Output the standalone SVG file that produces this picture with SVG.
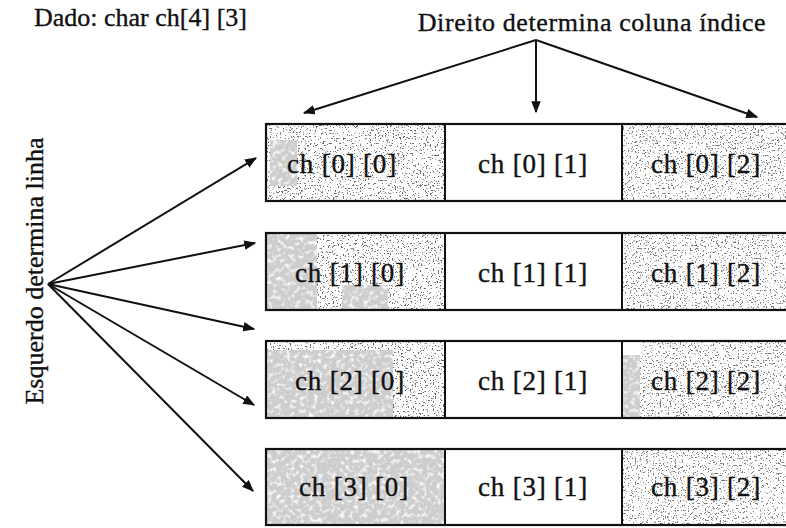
<svg xmlns="http://www.w3.org/2000/svg" width="786" height="528" viewBox="0 0 786 528">
<style>
  .lbl { font-family: "Liberation Serif", "Times New Roman", serif; font-size: 26px; fill: #111; stroke: #111; stroke-width: 0.35; }
  .cell-text { font-family: "Liberation Serif", "Times New Roman", serif; font-size: 27px; fill: #111; stroke: #111; stroke-width: 0.4; text-anchor: middle; letter-spacing: 0.8px; }
  .box { fill: none; stroke: #111; stroke-width: 2.2; }
  .div { stroke: #111; stroke-width: 2; }
  .conn { stroke: #111; stroke-width: 2; fill: none; marker-end: url(#arr); }
  .grey { fill: #cdcdcd; }
  .white { fill: #ffffff; }
</style>
<defs>
  <marker id="arr" viewBox="0 0 10 8" refX="9" refY="4" markerWidth="6" markerHeight="4.8" orient="auto" markerUnits="strokeWidth">
    <path d="M0,0 L10,4 L0,8 Z" fill="#111"/>
  </marker>
  <filter id="speck" x="0" y="0" width="1" height="1">
    <feTurbulence type="fractalNoise" baseFrequency="0.6" numOctaves="3" seed="5"/>
    <feColorMatrix type="matrix" values="0 0 0 0 0.15  0 0 0 0 0.15  0 0 0 0 0.15  -13 0 0 0 5.0"/>
  </filter>
  <filter id="speck2" x="0" y="0" width="1" height="1">
    <feTurbulence type="fractalNoise" baseFrequency="0.6" numOctaves="3" seed="11"/>
    <feColorMatrix type="matrix" values="0 0 0 0 0.2  0 0 0 0 0.2  0 0 0 0 0.2  -12 0 0 0 4.7"/>
  </filter>
  <filter id="mottle" x="0" y="0" width="1" height="1">
    <feTurbulence type="fractalNoise" baseFrequency="0.22" numOctaves="2" seed="2"/>
    <feColorMatrix type="matrix" values="0 0 0 0 1  0 0 0 0 1  0 0 0 0 1  3 0 0 0 -1.45"/>
  </filter>
</defs>

<rect x="0" y="0" width="786" height="528" fill="#ffffff"/>

<g id="title">
  <text class="lbl" x="34" y="26">Dado: char ch[4] [3]</text>
</g>
<g id="col-label">
  <text class="lbl" x="592" y="31" text-anchor="middle" letter-spacing="0.6">Direito determina coluna índice</text>
</g>
<g id="row-label">
  <text class="lbl" font-size="25" text-anchor="middle" transform="translate(43,271) rotate(-90)">Esquerdo determina linha</text>
</g>

<g id="row0">
  <rect class="white" x="266" y="124" width="524" height="77"/>
  <rect filter="url(#speck)" x="267" y="125" width="177" height="75"/>
  <rect class="grey" x="270" y="140" width="27" height="46"/>
  <rect filter="url(#mottle)" x="270" y="140" width="27" height="46"/>
  <rect filter="url(#speck2)" x="623" y="125" width="165" height="75"/>
  <rect class="box" x="266" y="124" width="524" height="77"/>
  <line class="div" x1="445" y1="124" x2="445" y2="201"/>
  <line class="div" x1="622" y1="124" x2="622" y2="201"/>
  <text class="cell-text" x="342" y="173">ch [0] [0]</text>
  <text class="cell-text" x="533" y="173">ch [0] [1]</text>
  <text class="cell-text" x="706" y="173">ch [0] [2]</text>
</g>

<g id="row1">
  <rect class="white" x="266" y="233" width="524" height="77"/>
  <rect filter="url(#speck)" x="317" y="234" width="127" height="75"/>
  <rect class="grey" x="267" y="234" width="50" height="75"/>
  <rect class="grey" x="342" y="285" width="46" height="25"/>
  <rect filter="url(#mottle)" x="267" y="234" width="50" height="75"/>
  <rect filter="url(#mottle)" x="342" y="285" width="46" height="25"/>
  <rect filter="url(#speck2)" x="623" y="234" width="165" height="75"/>
  <rect class="box" x="266" y="233" width="524" height="77"/>
  <line class="div" x1="445" y1="233" x2="445" y2="310"/>
  <line class="div" x1="622" y1="233" x2="622" y2="310"/>
  <text class="cell-text" x="350" y="282">ch [1] [0]</text>
  <text class="cell-text" x="533" y="282">ch [1] [1]</text>
  <text class="cell-text" x="706" y="282">ch [1] [2]</text>
</g>

<g id="row2">
  <rect class="white" x="266" y="341" width="524" height="77"/>
  <rect filter="url(#speck)" x="267" y="342" width="177" height="75"/>
  <rect class="grey" x="267" y="350" width="126" height="68"/>
  <rect filter="url(#mottle)" x="267" y="350" width="126" height="68"/>
  <rect filter="url(#speck2)" x="640" y="342" width="148" height="75"/>
  <rect class="grey" x="623" y="355" width="17" height="62"/>
  <rect filter="url(#mottle)" x="623" y="355" width="17" height="62"/>
  <rect class="box" x="266" y="341" width="524" height="77"/>
  <line class="div" x1="445" y1="341" x2="445" y2="418"/>
  <line class="div" x1="622" y1="341" x2="622" y2="418"/>
  <text class="cell-text" x="350" y="390">ch [2] [0]</text>
  <text class="cell-text" x="533" y="390">ch [2] [1]</text>
  <text class="cell-text" x="706" y="390">ch [2] [2]</text>
</g>

<g id="row3">
  <rect class="white" x="266" y="449" width="524" height="76"/>
  <rect class="grey" x="267" y="450" width="177" height="74"/>
  <rect filter="url(#mottle)" x="267" y="450" width="177" height="74"/>
  <rect filter="url(#speck2)" x="623" y="450" width="165" height="74"/>
  <rect class="box" x="266" y="449" width="524" height="76"/>
  <line class="div" x1="445" y1="449" x2="445" y2="525"/>
  <line class="div" x1="622" y1="449" x2="622" y2="525"/>
  <text class="cell-text" x="354" y="496">ch [3] [0]</text>
  <text class="cell-text" x="533" y="496">ch [3] [1]</text>
  <text class="cell-text" x="706" y="496">ch [3] [2]</text>
</g>

<g id="connectors">
  <line class="conn" x1="536" y1="40" x2="304" y2="113"/>
  <line class="conn" x1="536" y1="40" x2="536" y2="112"/>
  <line class="conn" x1="536" y1="40" x2="757" y2="117"/>
  <line class="conn" x1="48" y1="284" x2="256" y2="158"/>
  <line class="conn" x1="48" y1="284" x2="255" y2="243"/>
  <line class="conn" x1="48" y1="284" x2="254" y2="329"/>
  <line class="conn" x1="48" y1="284" x2="254" y2="405"/>
  <line class="conn" x1="48" y1="284" x2="253" y2="491"/>
</g>
</svg>
